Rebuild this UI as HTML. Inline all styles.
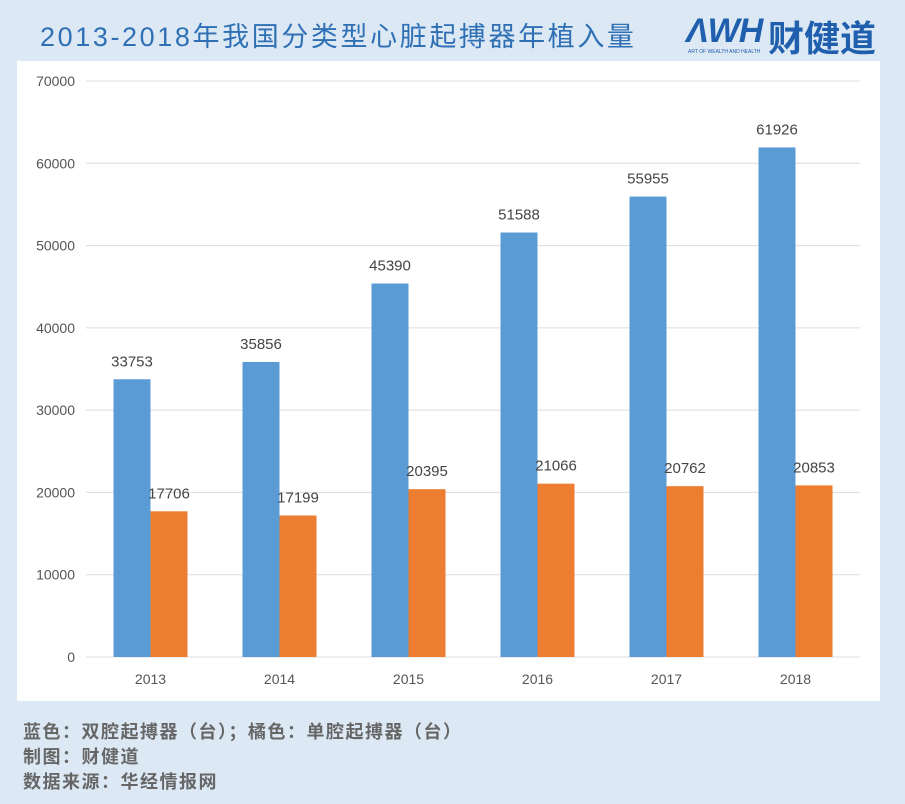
<!DOCTYPE html>
<html><head><meta charset="utf-8"><style>
body{margin:0;width:905px;height:804px;background:#dce9f5;font-family:"Liberation Sans","Noto Sans CJK SC",sans-serif;position:relative;overflow:hidden}
.title{position:absolute;left:40px;top:15px;font-size:27px;color:#2f70b5;letter-spacing:2.6px;white-space:nowrap}
.panel{position:absolute;left:17px;top:61px;width:863px;height:640px;background:#fff}
.foot{position:absolute;left:23px;font-size:18px;color:#666;font-weight:bold;white-space:nowrap;letter-spacing:1.5px}
.logo{position:absolute;left:686px;top:10px;width:196px;height:46px}
</style></head><body>
<div class="title">2013-2018年我国分类型心脏起搏器年植入量</div>
<div class="logo">
<span style="position:absolute;left:0;top:2px;font-size:34px;font-weight:bold;color:#1f5fae;font-style:italic;letter-spacing:-1px">ΛWH</span>
<span style="position:absolute;left:82px;top:0;font-size:36px;font-weight:bold;color:#1f5fae">财健道</span>
<span style="position:absolute;left:2px;top:39px;font-size:5px;color:#1f5fae">ART OF WEALTH AND HEALTH</span>
</div>
<div class="panel"></div>
<svg id="chart" width="905" height="804" style="position:absolute;left:0;top:0"></svg>
<div class="foot" style="top:718px">蓝色：双腔起搏器（台）；橘色：单腔起搏器（台）</div>
<div class="foot" style="top:743px">制图：财健道</div>
<div class="foot" style="top:768px">数据来源：华经情报网</div>
<script>
const categories=["2013","2014","2015","2016","2017","2018"];
const dualValues=[33753,35856,45390,51588,55955,61926];
const singleValues=[17706,17199,20395,21066,20762,20853];
const yTicks=[0,10000,20000,30000,40000,50000,60000,70000];
const NS="http://www.w3.org/2000/svg";
const svg=document.getElementById('chart');
const y0=657,yTop=81,yMax=70000,xL=86,xR=860;
const y=v=>y0-(v/yMax)*(y0-yTop);
const step=(xR-xL)/categories.length;
const xc=i=>xL+step*(i+0.5);
const bw=37;
function mk(t,a){const e=document.createElementNS(NS,t);for(const k in a)e.setAttribute(k,a[k]);svg.appendChild(e);return e;}
yTicks.forEach(t=>{
 const l=mk('line',{x1:xL,x2:xR,y1:y(t),y2:y(t),stroke:'#dcdcdc','stroke-width':1});
 
 
 const tx=mk('text',{x:75,y:y(t)+5,'text-anchor':'end','font-size':14,fill:'#555','font-family':'Liberation Sans, sans-serif'});
 tx.textContent=t;
 
 
});
categories.forEach((c,i)=>{
 const cx=xc(i);
 const b=mk('rect',{x:cx-bw,y:y(dualValues[i]),width:bw,height:y0-y(dualValues[i]),fill:'#5b9bd5'});
 
 
 const o=mk('rect',{x:cx,y:y(singleValues[i]),width:bw,height:y0-y(singleValues[i]),fill:'#ed7d31'});
 
 
 const t1=mk('text',{x:cx-bw/2,y:y(dualValues[i])-13,'text-anchor':'middle','font-size':15,fill:'#444','font-family':'Liberation Sans, sans-serif'});
 t1.textContent=dualValues[i];
 
 
 const t2=mk('text',{x:cx+bw/2,y:y(singleValues[i])-13,'text-anchor':'middle','font-size':15,fill:'#444','font-family':'Liberation Sans, sans-serif'});
 t2.textContent=singleValues[i];
 
 
 const xl=mk('text',{x:cx,y:684,'text-anchor':'middle','font-size':14,fill:'#555','font-family':'Liberation Sans, sans-serif'});
 xl.textContent=c;
 
 
});
</script>
</body></html>
